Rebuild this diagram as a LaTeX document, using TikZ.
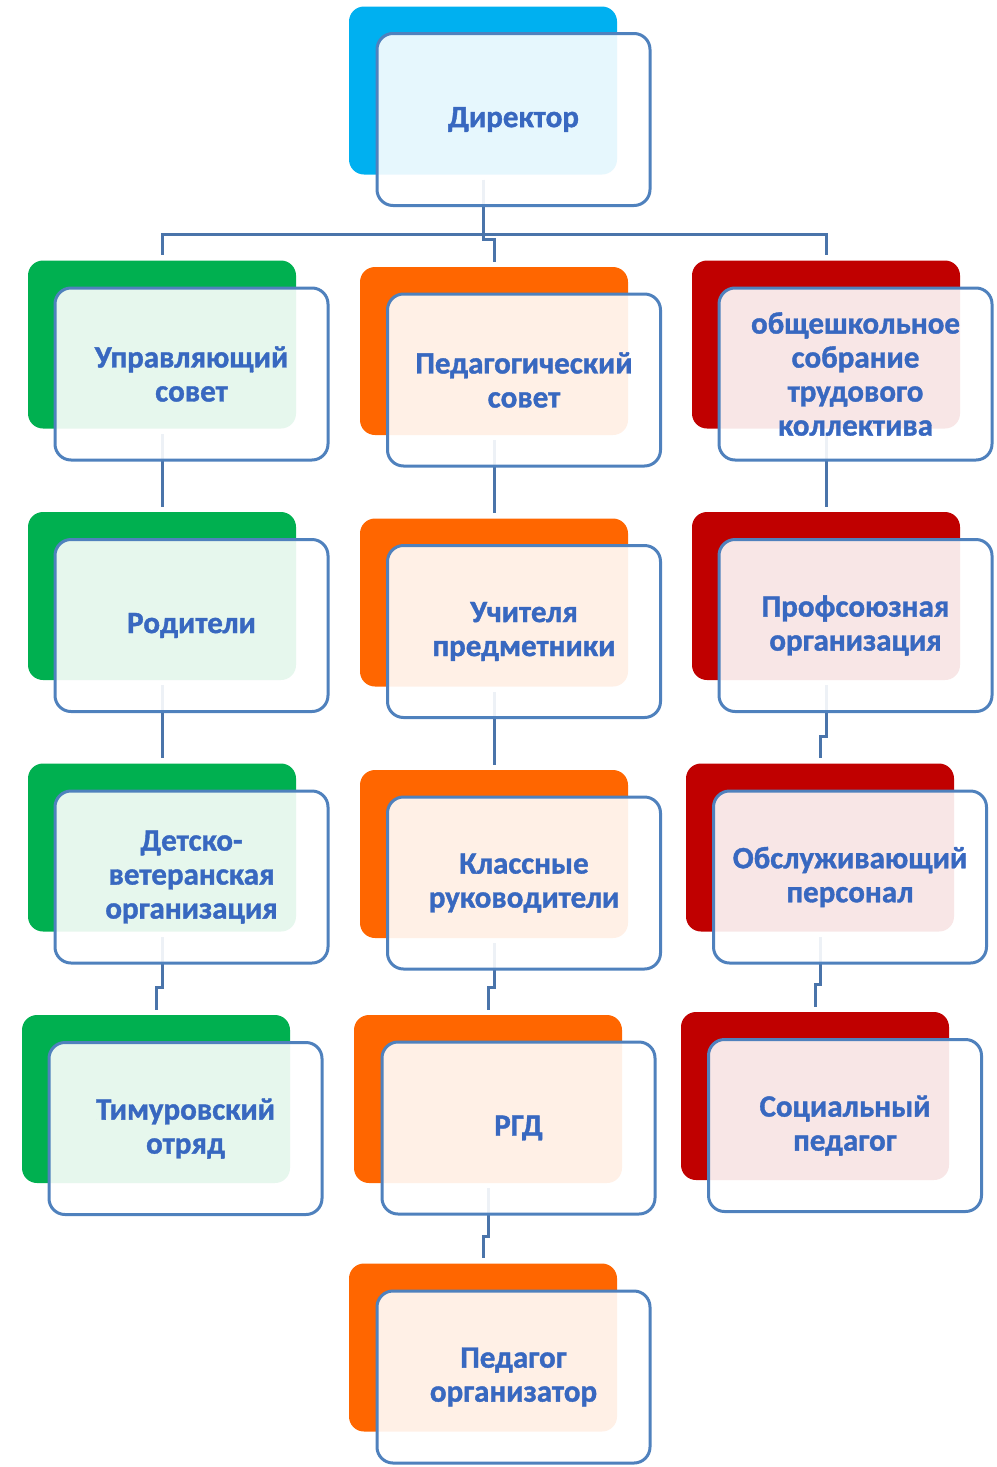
\documentclass[tikz,border=0pt]{standalone}
\usepackage{fontspec}
\setmainfont{Carlito}[BoldFeatures={FakeBold=1.2}]

\definecolor{skyB}{RGB}{0,176,240}
\definecolor{greenB}{RGB}{0,176,80}
\definecolor{orangeB}{RGB}{255,102,0}
\definecolor{redB}{RGB}{192,0,0}
\definecolor{frameB}{RGB}{79,129,189}
\definecolor{linkB}{RGB}{74,116,170}
\definecolor{textB}{RGB}{56,104,192}

\tikzset{every picture/.style={line width=0.75pt}}
\tikzset{
  back/.style={draw=none, fill=#1, rounded corners=15pt, minimum width=268pt, minimum height=168pt, inner sep=0pt},
  front/.style={draw=frameB, line width=3pt, fill=white, fill opacity=0.9, text opacity=1, rounded corners=16pt, minimum width=273pt, minimum height=172pt, inner sep=0pt, align=center, text=textB, font=\fontsize{31}{34}\selectfont\bfseries},
  link/.style={draw=linkB, line width=3pt, shorten <=5pt, shorten >=5pt}
}

\begin{document}
\begin{tikzpicture}[x=1pt,y=-1pt]
	\useasboundingbox (0,0) rectangle (996,1467);

	%Back boxes
	\node [back=skyB] (dirB) at (483,90.5) {};
	\node [back=greenB] (upB) at (162,344.5) {};
	\node [back=greenB] (rodB) at (162,596) {};
	\node [back=greenB] (vetB) at (162,847.5) {};
	\node [back=greenB] (timB) at (156,1099) {};
	\node [back=orangeB] (pedB) at (494,351) {};
	\node [back=orangeB] (uchB) at (494,602.5) {};
	\node [back=orangeB] (klB) at (494,854) {};
	\node [back=orangeB] (rgdB) at (488,1099) {};
	\node [back=orangeB] (orgB) at (483,1347.5) {};
	\node [back=redB] (obB) at (826,344.5) {};
	\node [back=redB] (profB) at (826,596) {};
	\node [back=redB] (servB) at (820,847.5) {};
	\node [back=redB] (socB) at (815,1096) {};

	%Connectors
	\draw [link] (dirB.south) |- ([yshift=26pt]upB.north) -- (upB.north);
	\draw [link] (dirB.south) |- ([yshift=26pt]obB.north) -- (obB.north);
	\draw [link] (dirB.south) |- ([yshift=27pt]pedB.north) -- (pedB.north);
	\draw [link] (upB.south) -- (rodB.north);
	\draw [link] (rodB.south) -- (vetB.north);
	\draw [link] (vetB.south) |- ([yshift=27pt]timB.north) -- (timB.north);
	\draw [link] (pedB.south) -- (uchB.north);
	\draw [link] (uchB.south) -- (klB.north);
	\draw [link] (klB.south) |- ([yshift=27pt]rgdB.north) -- (rgdB.north);
	\draw [link] (rgdB.south) |- ([yshift=27pt]orgB.north) -- (orgB.north);
	\draw [link] (obB.south) -- (profB.north);
	\draw [link] (profB.south) |- ([yshift=27pt]servB.north) -- (servB.north);
	\draw [link] (servB.south) |- ([yshift=27pt]socB.north) -- (socB.north);

	% Text Node
	\node [front] (dir) at ([shift={(30.5,29)}]dirB) {Директор};
	% Text Node
	\node [front] (up) at ([shift={(29.5,29.5)}]upB) {Управляющий\\совет};
	% Text Node
	\node [front] (rod) at ([shift={(29.5,29.5)}]rodB) {Родители};
	% Text Node
	\node [front] (vet) at ([shift={(29.5,29.5)}]vetB) {Детско-\\ветеранская\\организация};
	% Text Node
	\node [front] (tim) at ([shift={(29.5,29.5)}]timB) {Тимуровский\\отряд};
	% Text Node
	\node [front] (ped) at ([shift={(30,29)}]pedB) {Педагогический\\совет};
	% Text Node
	\node [front] (uch) at ([shift={(30,29)}]uchB) {Учителя\\предметники};
	% Text Node
	\node [front] (kl) at ([shift={(30,29)}]klB) {Классные\\руководители};
	% Text Node
	\node [front] (rgd) at ([shift={(30.5,29)}]rgdB) {РГД};
	% Text Node
	\node [front] (org) at ([shift={(30.5,29.5)}]orgB) {Педагог\\организатор};
	% Text Node
	\node [front] (ob) at ([shift={(29.5,29.5)}]obB) {общешкольное\\собрание\\трудового\\коллектива};
	% Text Node
	\node [front] (prof) at ([shift={(29.5,29.5)}]profB) {Профсоюзная\\организация};
	% Text Node
	\node [front] (serv) at ([shift={(30,29.5)}]servB) {Обслуживающий\\персонал};
	% Text Node
	\node [front] (soc) at ([shift={(30,29.5)}]socB) {Социальный\\педагог};

\end{tikzpicture}
\end{document}
